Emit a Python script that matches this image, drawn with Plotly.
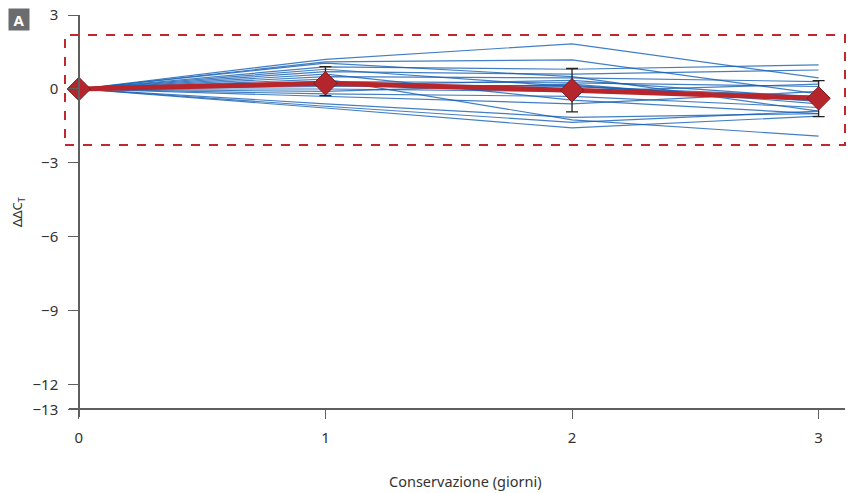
import plotly.graph_objects as go

days = [0, 1, 2, 3]

# Individual sample ΔΔCT traces (blue)
samples = [
    [0, 1.20, 1.83, 0.45],
    [0, 1.10, 1.18, -0.20],
    [0, 0.90, 0.80, 0.98],
    [0, 0.70, 0.60, 0.77],
    [0, 0.50, 0.45, 0.30],
    [0, 1.05, 0.50, -0.90],
    [0, 0.30, 0.25, 0.10],
    [0, 0.20, 0.10, -0.30],
    [0, 0.10, 0.15, -0.50],
    [0, 0.00, -0.10, 0.20],
    [0, -0.10, 0.20, -0.60],
    [0, -0.20, -0.30, -0.75],
    [0, 0.60, -0.45, -1.00],
    [0, -0.30, -0.60, -0.10],
    [0, -0.60, -1.15, -1.00],
    [0, -0.70, -1.35, -0.90],
    [0, -0.77, -1.58, -1.10],
    [0, 0.40, -1.25, -1.91],
    [0, 0.80, 0.10, -0.40],
    [0, 0.15, 0.35, -0.35],
]

mean_vals = [0, 0.23, -0.05, -0.38]
err_plus = [0, 0.68, 0.88, 0.72]
err_minus = [0, 0.50, 0.88, 0.74]

y_tickvals = [3, 0, -3, -6, -9, -12, -13]
y_ticktext = ["3", "0", "−3", "−6", "−9", "−12", "−13"]
x_tickvals = [0, 1, 2, 3]
x_ticktext = ["0", "1", "2", "3"]

FONT = "Noto Sans"
AXIS = "#5f5f5f"
TXT = "#333333"

W, H = 849, 493
PL, PR, PT, PB = 69, 845, 15, 417  # plot area in pixels


def px(x):
    return x / W


def py(y):
    return 1 - y / H


fig = go.Figure()

for s in samples:
    fig.add_trace(go.Scatter(
        x=days, y=s, mode="lines",
        line=dict(color="rgba(20,95,180,0.8)", width=1.2),
        hoverinfo="skip", showlegend=False, cliponaxis=False,
    ))

fig.add_trace(go.Scatter(
    x=days, y=mean_vals, mode="lines+markers",
    line=dict(color="#b8262c", width=5),
    marker=dict(symbol="diamond", size=18, color="#b5262c",
                line=dict(color="#7c1a1e", width=1)),
    error_y=dict(type="data", symmetric=False, array=err_plus,
                 arrayminus=err_minus, color="#222222", thickness=1.3, width=6),
    showlegend=False, cliponaxis=False,
))

fig.update_layout(
    width=W, height=H,
    margin=dict(l=0, r=0, t=0, b=0, autoexpand=False),
    paper_bgcolor="white", plot_bgcolor="white",
    font=dict(family=FONT, color=TXT, size=14),
    xaxis=dict(
        domain=[px(PL), px(PR)],
        range=[-0.04, 3.107], tickvals=x_tickvals, ticktext=x_ticktext,
        showgrid=False, zeroline=False, showline=True, linecolor=AXIS, linewidth=1.5,
        ticks="outside", ticklen=9, tickcolor=AXIS, tickwidth=1.2,
        anchor="free", position=py(409), automargin=False, ticklabelstandoff=6,
        tickfont=dict(size=15, color=TXT, family=FONT),
    ),
    yaxis=dict(
        domain=[py(PB), py(PT)],
        range=[-13.3, 3.0], tickvals=y_tickvals, ticktext=y_ticktext,
        showgrid=False, zeroline=False, showline=True, linecolor=AXIS, linewidth=1.5,
        ticks="outside", ticklen=10, tickcolor=AXIS, tickwidth=1.2,
        anchor="free", position=px(79), automargin=False, ticklabelstandoff=7,
        tickfont=dict(size=15, color=TXT, family=FONT),
    ),
    shapes=[dict(
        type="rect", xref="paper", yref="paper",
        x0=px(65), x1=px(845), y0=py(145), y1=py(35),
        line=dict(color="#c1272d", width=2, dash="dash"),
        fillcolor="rgba(0,0,0,0)", layer="above",
    )],
    annotations=[
        dict(text="Conservazione (giorni)", xref="paper", yref="paper",
             x=px(465), y=py(481), showarrow=False,
             font=dict(size=14.5, color=TXT, family=FONT),
             xanchor="center", yanchor="middle"),
        dict(text="ΔΔC<sub>T</sub>", xref="paper", yref="paper",
             x=px(18), y=py(212), showarrow=False, textangle=-90,
             font=dict(size=13, color=TXT, family=FONT),
             xanchor="center", yanchor="middle"),
        dict(text="<b>A</b>", xref="paper", yref="paper",
             x=px(8), y=py(8), showarrow=False,
             xanchor="left", yanchor="top", bgcolor="#6b6c6e",
             font=dict(size=15, color="white", family=FONT),
             borderpad=1, width=18, height=19),
    ],
)

fig.write_html(
    "out.html",
    config={"displayModeBar": False},
    post_script="document.body.style.margin='0';document.body.style.overflow='hidden';",
)
